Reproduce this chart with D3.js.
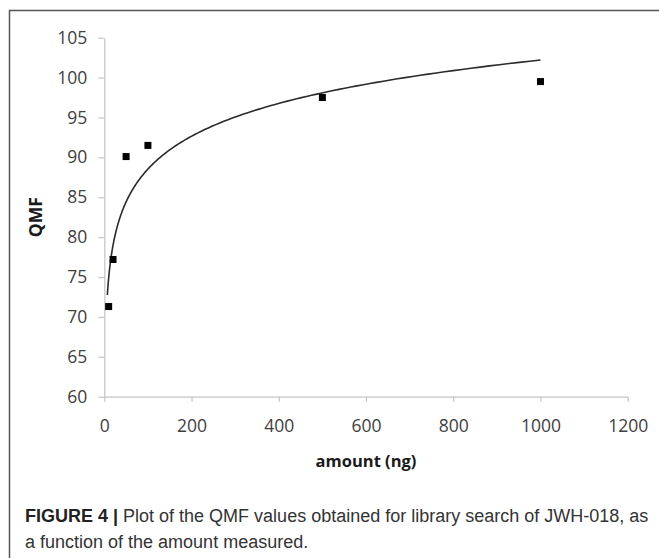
<!DOCTYPE html>
<html>
<head>
<meta charset="utf-8">
<script src="https://cdn.jsdelivr.net/npm/d3@7"></script>
<style>
  body { margin: 0; background: #fff; }
</style>
</head>
<body>
<div id="chart"></div>
<script>
// data
const amounts = [10, 20, 50, 100, 500, 1000];
const qmf = [71.3, 77.2, 90.1, 91.5, 97.5, 99.5];
const xTicks = [0, 200, 400, 600, 800, 1000, 1200];
const yTicks = [60, 65, 70, 75, 80, 85, 90, 95, 100, 105];
const trendStart = 7; // trendline drawn from here to the last amount

const width = 659,
  height = 558;
const marginLeft = 104.3,
  marginRight = 31.3,
  marginTop = 37.7,
  plotBottom = 396.7;

const svg = d3
  .select("#chart")
  .append("svg")
  .attr("width", width)
  .attr("height", height)
  .attr("viewBox", [0, 0, width, height]);

// frame round the figure (top and left edges visible)
svg
  .append("path")
  .attr("d", `M9.5,${height} V10.5 H${width}`)
  .attr("fill", "none")
  .attr("stroke", "#555")
  .attr("stroke-width", 1.5);

// scales
const xScale = d3.scaleLinear().domain([0, 1200]).range([marginLeft, width - marginRight]);
const yScale = d3.scaleLinear().domain([60, 105]).range([plotBottom, marginTop]);

const axisFont = "'Open Sans', 'Noto Sans', sans-serif";
const tickFont = 17.5;

// axis y
svg
  .append("g")
  .attr("transform", `translate(${marginLeft},0)`)
  .call(d3.axisLeft(yScale).tickValues(yTicks).tickFormat(d3.format("d")).tickSize(6).tickPadding(11).tickSizeOuter(0))
  .call((g) => g.select(".domain").attr("stroke", "#c4c4c4").attr("stroke-width", 1.2))
  .call((g) => g.selectAll(".tick line").attr("stroke", "#c4c4c4").attr("stroke-width", 1.2))
  .call((g) =>
    g
      .selectAll(".tick text")
      .attr("font-size", tickFont)
      .attr("font-family", axisFont)
      .attr("fill", "#404040")
  );

// axis x
svg
  .append("g")
  .attr("transform", `translate(0,${plotBottom})`)
  .call(d3.axisBottom(xScale).tickValues(xTicks).tickFormat(d3.format("d")).tickSize(5).tickPadding(18).tickSizeOuter(0))
  .call((g) => g.select(".domain").attr("stroke", "#c4c4c4").attr("stroke-width", 1.2))
  .call((g) => g.selectAll(".tick line").attr("stroke", "#c4c4c4").attr("stroke-width", 1.2))
  .call((g) =>
    g
      .selectAll(".tick text")
      .attr("font-size", tickFont)
      .attr("font-family", axisFont)
      .attr("fill", "#404040")
  );

// axis titles
svg
  .append("text")
  .attr("x", (xScale.range()[0] + xScale.range()[1]) / 2)
  .attr("y", 467)
  .attr("text-anchor", "middle")
  .attr("font-family", axisFont)
  .attr("font-weight", "bold")
  .attr("font-size", 16.5)
  .attr("fill", "#1a1a1a")
  .text("amount (ng)");

svg
  .append("text")
  .attr("transform", `translate(42,${(marginTop + plotBottom) / 2}) rotate(-90)`)
  .attr("text-anchor", "middle")
  .attr("font-family", axisFont)
  .attr("font-weight", "bold")
  .attr("font-size", 17.5)
  .attr("fill", "#1a1a1a")
  .text("QMF");

// logarithmic trendline, least squares fit of qmf on ln(amount)
const lnX = amounts.map((d) => Math.log(d));
const mx = d3.mean(lnX),
  my = d3.mean(qmf);
const slope =
  d3.sum(lnX, (d, i) => (d - mx) * (qmf[i] - my)) / d3.sum(lnX, (d) => (d - mx) ** 2);
const intercept = my - slope * mx;

const trendX = d3.range(0, 201).map((i) => trendStart * Math.pow(amounts[amounts.length - 1] / trendStart, i / 200));

svg
  .append("path")
  .datum(trendX)
  .attr("fill", "none")
  .attr("stroke", "#2b2b2b")
  .attr("stroke-width", 1.6)
  .attr(
    "d",
    d3
      .line()
      .x((d) => xScale(d))
      .y((d) => yScale(slope * Math.log(d) + intercept))
  );

// markers
const size = 7;
svg
  .append("g")
  .selectAll("rect")
  .data(amounts)
  .join("rect")
  .attr("x", (d) => xScale(d) - size / 2)
  .attr("y", (d, i) => yScale(qmf[i]) - size / 2)
  .attr("width", size)
  .attr("height", size)
  .attr("fill", "#000");

// caption
const caption = svg
  .append("text")
  .attr("font-family", "'Liberation Sans', Arial, sans-serif")
  .attr("font-size", 18)
  .attr("fill", "#333");

const line1 = caption.append("tspan").attr("x", 25).attr("y", 522);
line1.append("tspan").attr("font-weight", "bold").attr("fill", "#222").text("FIGURE 4 | ");
line1.append("tspan").text("Plot of the QMF values obtained for library search of JWH-018, as");
caption.append("tspan").attr("x", 25).attr("y", 548).text("a function of the amount measured.");
</script>
</body>
</html>
